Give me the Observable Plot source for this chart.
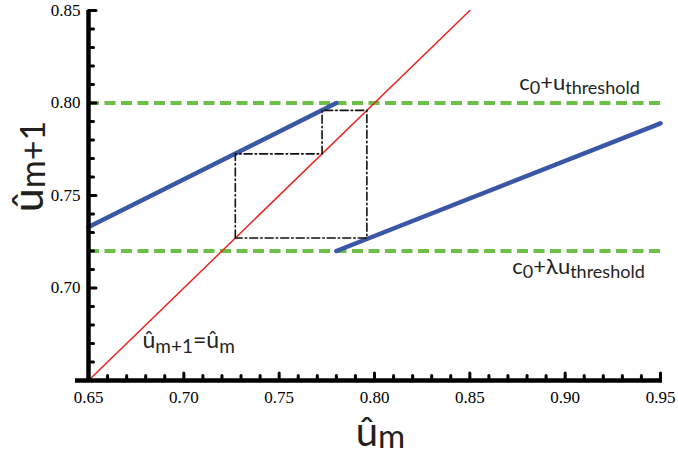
<!DOCTYPE html>
<html><head><meta charset="utf-8">
<script src="https://cdn.jsdelivr.net/npm/d3@7"></script>
<script src="https://cdn.jsdelivr.net/npm/@observablehq/plot@0.6"></script>
<style>
body{margin:0;background:#fff;} svg{display:block}
</style>
</head><body><div id="chart"></div>
<script>
// ---- data ----
const identityX = [0.65, 0.85];
const identityY = [0.65, 0.85];
const upperBranchX = [0.65, 0.78];
const upperBranchY = [0.733, 0.80];
const lowerBranchX = [0.78, 0.95];
const lowerBranchY = [0.72, 0.789];
const thresholdLevels = [0.80, 0.72];
const cobwebX = [0.727, 0.727, 0.7725, 0.7725, 0.796, 0.796, 0.727];
const cobwebY = [0.727, 0.7725, 0.7725, 0.796, 0.796, 0.727, 0.727];
const xTicks = [0.65, 0.70, 0.75, 0.80, 0.85, 0.90, 0.95];
const xTickLabels = ["0.65", "0.70", "0.75", "0.80", "0.85", "0.90", "0.95"];
const yTicks = [0.70, 0.75, 0.80, 0.85];
const yTickLabels = ["0.70", "0.75", "0.80", "0.85"];
const xMinorTicks = [0.66, 0.67, 0.68, 0.69, 0.71, 0.72, 0.73, 0.74, 0.76, 0.77, 0.78, 0.79,
                     0.81, 0.82, 0.83, 0.84, 0.86, 0.87, 0.88, 0.89, 0.91, 0.92, 0.93, 0.94];
const yMinorTicks = [0.66, 0.67, 0.68, 0.69, 0.71, 0.72, 0.73, 0.74, 0.76, 0.77, 0.78, 0.79,
                     0.81, 0.82, 0.83, 0.84];
const labelUpper = "c0+uthreshold";
const labelLower = "c0+λuthreshold";
const labelIdentity = "ûm+1=ûm";
const xTitle = "ûm";
const yTitle = "ûm+1";

// rich-text segments (text, isSubscript)
const richText = {
  [labelUpper]: {segs: [["c", 0], ["0", 1], ["+u", 0], ["threshold", 1]], sub: 18, shift: 4},
  [labelLower]: {segs: [["c", 0], ["0", 1], ["+λu", 0], ["threshold", 1]], sub: 18, shift: 4},
  [labelIdentity]: {segs: [["û", 0], ["m+1", 1], ["=û", 0], ["m", 1]], sub: 19, shift: 5},
  [xTitle]: {segs: [["û", 0], ["m", 1]], sub: 33, shift: 2},
  [yTitle]: {segs: [["û", 0], ["m+1", 1]], sub: 34, shift: 2}
};

const toPts = (xs, ys) => xs.map((x, i) => ({x, y: ys[i]}));

const sans = "Lato, 'Open Sans', sans-serif";
const serif = "'Liberation Serif', 'DejaVu Serif', serif";
const ink = "#231f20";

// inward tick shapes
const tickUp = {draw(ctx, l) { ctx.moveTo(0, 0); ctx.lineTo(0, -l); }};
const tickRight = {draw(ctx, l) { ctx.moveTo(0, 0); ctx.lineTo(l, 0); }};

const plot = Plot.plot({
  width: 678,
  height: 454,
  marginLeft: 88,
  marginRight: 18,
  marginTop: 10,
  marginBottom: 74,
  style: {background: "#fff", color: "#000"},
  x: {domain: [0.65, 0.95], axis: null},
  y: {domain: [0.65, 0.85], axis: null},
  marks: [
    Plot.ruleY(thresholdLevels, {stroke: "#6cbf47", strokeWidth: 4, strokeDasharray: "11,5.5"}),
    Plot.line(toPts(identityX, identityY), {x: "x", y: "y", stroke: "#e8251f", strokeWidth: 1.5}),
    Plot.line(toPts(upperBranchX, upperBranchY), {x: "x", y: "y", stroke: "#3a57a7", strokeWidth: 4.5}),
    Plot.line(toPts(lowerBranchX, lowerBranchY), {x: "x", y: "y", stroke: "#3a57a7", strokeWidth: 4.5}),
    Plot.line(toPts(cobwebX, cobwebY), {x: "x", y: "y", stroke: "#111", strokeWidth: 1.6, strokeDasharray: "8,3,1.5,3"}),
    // axis lines
    Plot.ruleX([0.65], {stroke: "#000", strokeWidth: 4.5}),
    Plot.ruleY([0.65], {stroke: "#000", strokeWidth: 4.5, insetLeft: -13, insetRight: -2}),
    // inward ticks
    Plot.vector(xMinorTicks, {x: d => d, frameAnchor: "bottom", length: 5, shape: tickUp, stroke: "#000", strokeWidth: 3, anchor: "start"}),
    Plot.vector(xTicks, {x: d => d, frameAnchor: "bottom", length: 7.5, shape: tickUp, stroke: "#000", strokeWidth: 3, anchor: "start"}),
    Plot.vector(yMinorTicks, {y: d => d, frameAnchor: "left", length: 5, shape: tickRight, stroke: "#000", strokeWidth: 3, anchor: "start"}),
    Plot.vector(yTicks, {y: d => d, frameAnchor: "left", length: 7.5, shape: tickRight, stroke: "#000", strokeWidth: 3, anchor: "start"}),
    // tick labels (serif)
    Plot.text(xTicks, {x: d => d, frameAnchor: "bottom", text: (d, i) => xTickLabels[i],
      dy: 10, lineAnchor: "top", textAnchor: "middle", fontFamily: serif, fontSize: 17, fill: "#000"}),
    Plot.text(yTicks, {y: d => d, frameAnchor: "left", text: (d, i) => yTickLabels[i],
      dx: -8, textAnchor: "end", lineAnchor: "middle", fontFamily: serif, fontSize: 17, fill: "#000"}),
    // annotations
    Plot.text([labelUpper], {x: 0.9075, y: 0.8068, textAnchor: "middle", lineAnchor: "bottom", fontSize: 22, fontFamily: sans, fill: ink}),
    Plot.text([labelLower], {x: 0.907, y: 0.7078, textAnchor: "middle", lineAnchor: "bottom", fontSize: 22, fontFamily: sans, fill: ink}),
    Plot.text([labelIdentity], {x: 0.6783, y: 0.6678, textAnchor: "start", lineAnchor: "bottom", fontSize: 23, fontFamily: sans, fill: ink}),
    Plot.text([xTitle], {frameAnchor: "bottom", dx: 6, dy: 65, textAnchor: "middle", lineAnchor: "bottom", fontSize: 40, fontFamily: sans, fill: ink}),
    Plot.text([yTitle], {frameAnchor: "left", rotate: -90, dx: -46, dy: -29, textAnchor: "middle", lineAnchor: "bottom", fontSize: 43, fontFamily: sans, fill: ink})
  ]
});

// turn the plain label strings into sub-scripted rich text
plot.querySelectorAll("text").forEach(t => {
  const r = richText[t.textContent];
  if (!r) return;
  t.textContent = "";
  let cur = 0;
  for (const [s, isSub] of r.segs) {
    const ts = document.createElementNS("http://www.w3.org/2000/svg", "tspan");
    const target = isSub ? r.shift : 0;
    ts.setAttribute("dy", target - cur);
    cur = target;
    if (isSub) ts.setAttribute("font-size", r.sub);
    ts.textContent = s;
    t.appendChild(ts);
  }
});

document.getElementById("chart").appendChild(plot);
</script>
</body></html>
